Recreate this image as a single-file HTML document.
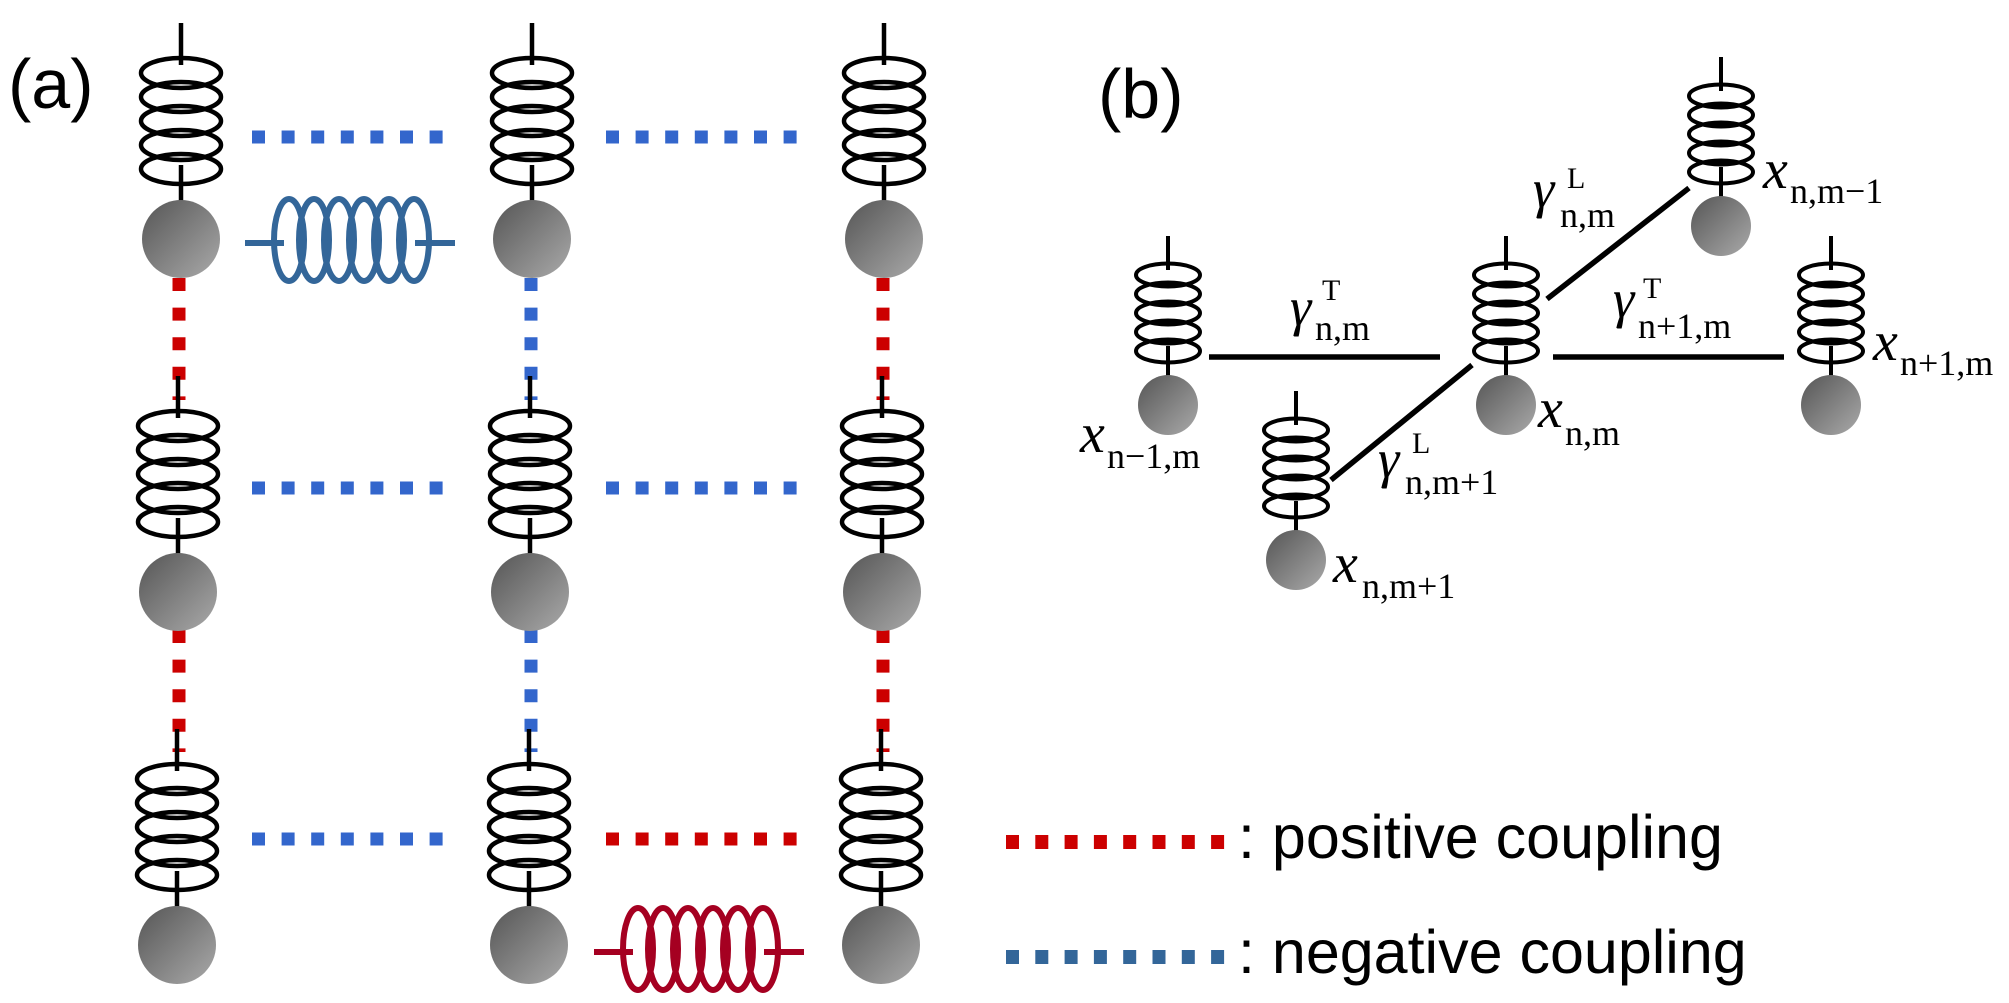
<!DOCTYPE html>
<html><head><meta charset="utf-8"><style>
html,body{margin:0;padding:0;background:#fff;}
svg{display:block;}
.s{font-family:"Liberation Serif",serif;}
</style></head><body>
<svg width="2009" height="1003" viewBox="0 0 2009 1003" xmlns="http://www.w3.org/2000/svg">
<defs>
<linearGradient id="g" x1="0" y1="0" x2="1" y2="1">
<stop offset="0" stop-color="#555"/><stop offset="1" stop-color="#aaa"/>
</linearGradient>
<g id="big" fill="none" stroke="#000" stroke-width="4.5">
<line x1="0" y1="0" x2="0" y2="42"/>
<ellipse cx="0" cy="50" rx="40" ry="15"/>
<ellipse cx="0" cy="74" rx="40" ry="15"/>
<ellipse cx="0" cy="98" rx="40" ry="15"/>
<ellipse cx="0" cy="122" rx="40" ry="15"/>
<ellipse cx="0" cy="146" rx="40" ry="15"/>
<line x1="0" y1="142" x2="0" y2="182"/>
<circle cx="0" cy="216" r="39" fill="url(#g)" stroke="none"/>
</g>
<g id="sm" fill="none" stroke="#000" stroke-width="4">
<line x1="0" y1="0" x2="0" y2="34"/>
<ellipse cx="0" cy="39" rx="32" ry="11.5"/>
<ellipse cx="0" cy="58" rx="32" ry="11.5"/>
<ellipse cx="0" cy="77" rx="32" ry="11.5"/>
<ellipse cx="0" cy="96" rx="32" ry="11.5"/>
<ellipse cx="0" cy="115" rx="32" ry="11.5"/>
<line x1="0" y1="110" x2="0" y2="148"/>
<circle cx="0" cy="169" r="30" fill="url(#g)" stroke="none"/>
</g>
<g id="hs" fill="none" stroke-width="6">
<line x1="245" y1="243" x2="284" y2="243"/>
<line x1="415" y1="243" x2="455" y2="243"/>
<ellipse cx="289" cy="240" rx="15" ry="41"/>
<ellipse cx="314" cy="240" rx="15" ry="41"/>
<ellipse cx="339" cy="240" rx="15" ry="41"/>
<ellipse cx="364" cy="240" rx="15" ry="41"/>
<ellipse cx="389" cy="240" rx="15" ry="41"/>
<ellipse cx="414" cy="240" rx="15" ry="41"/>
</g>
</defs>

<text x="8" y="108" font-family="Liberation Sans, sans-serif" font-size="70">(a)</text>
<text x="1098" y="118" font-family="Liberation Sans, sans-serif" font-size="70">(b)</text>

<g stroke-width="13" stroke-dasharray="13 16.6">
<line x1="179" y1="278" x2="179" y2="400" stroke="#cc0000"/>
<line x1="179" y1="630" x2="179" y2="752" stroke="#cc0000"/>
<line x1="531" y1="278" x2="531" y2="400" stroke="#3366cc"/>
<line x1="531" y1="630" x2="531" y2="752" stroke="#3366cc"/>
<line x1="883" y1="278" x2="883" y2="400" stroke="#cc0000"/>
<line x1="883" y1="630" x2="883" y2="752" stroke="#cc0000"/>
</g>
<g stroke-width="13" stroke-dasharray="13 16.6">
<line x1="252" y1="137" x2="446" y2="137" stroke="#3366cc"/>
<line x1="606" y1="137" x2="800" y2="137" stroke="#3366cc"/>
<line x1="252" y1="488" x2="446" y2="488" stroke="#3366cc"/>
<line x1="606" y1="488" x2="800" y2="488" stroke="#3366cc"/>
<line x1="252" y1="839" x2="446" y2="839" stroke="#3366cc"/>
<line x1="606" y1="839" x2="800" y2="839" stroke="#cc0000"/>
</g>

<use href="#big" x="181" y="23"/>
<use href="#big" x="532" y="23"/>
<use href="#big" x="884" y="23"/>
<use href="#big" x="178" y="376"/>
<use href="#big" x="530" y="376"/>
<use href="#big" x="882" y="376"/>
<use href="#big" x="177" y="729"/>
<use href="#big" x="529" y="729"/>
<use href="#big" x="881" y="729"/>

<use href="#hs" stroke="#336699"/>
<use href="#hs" stroke="#a50021" x="349" y="709"/>

<g stroke="#000" stroke-width="5.5">
<line x1="1209" y1="357" x2="1440" y2="357"/>
<line x1="1553" y1="357" x2="1784" y2="357"/>
<line x1="1547" y1="299" x2="1689" y2="188"/>
<line x1="1331" y1="480" x2="1472" y2="365"/>
</g>
<use href="#sm" x="1168" y="236"/>
<use href="#sm" x="1506" y="236"/>
<use href="#sm" x="1831" y="236"/>
<use href="#sm" x="1721" y="57"/>
<use href="#sm" x="1296" y="391"/>

<g class="s">
<text x="1290" y="325" font-size="54" font-style="italic">γ</text>
<text x="1322" y="300" font-size="30">T</text>
<text x="1315" y="340" font-size="36">n,m</text>

<text x="1613" y="317" font-size="54" font-style="italic">γ</text>
<text x="1643" y="298" font-size="30">T</text>
<text x="1638" y="338" font-size="36">n+1,m</text>

<text x="1533" y="207" font-size="54" font-style="italic">γ</text>
<text x="1567" y="188" font-size="30">L</text>
<text x="1560" y="227" font-size="36">n,m</text>

<text x="1378" y="477" font-size="54" font-style="italic">γ</text>
<text x="1412" y="453" font-size="30">L</text>
<text x="1405" y="494" font-size="36">n,m+1</text>

<text x="1080" y="452" font-size="56" font-style="italic">x</text>
<text x="1107" y="468" font-size="36">n−1,m</text>

<text x="1538" y="427" font-size="56" font-style="italic">x</text>
<text x="1565" y="445" font-size="36">n,m</text>

<text x="1873" y="360" font-size="56" font-style="italic">x</text>
<text x="1900" y="375" font-size="36">n+1,m</text>

<text x="1763" y="188" font-size="56" font-style="italic">x</text>
<text x="1790" y="203" font-size="36">n,m−1</text>

<text x="1333" y="582" font-size="56" font-style="italic">x</text>
<text x="1362" y="598" font-size="36">n,m+1</text>
</g>

<g stroke-width="14" stroke-dasharray="13 16.3">
<line x1="1006" y1="842" x2="1230" y2="842" stroke="#cc0000"/>
<line x1="1006" y1="957" x2="1230" y2="957" stroke="#336699"/>
</g>
<text x="1238" y="858" font-family="Liberation Sans, sans-serif" font-size="61">: positive coupling</text>
<text x="1238" y="973" font-family="Liberation Sans, sans-serif" font-size="61">: negative coupling</text>
</svg>
</body></html>
